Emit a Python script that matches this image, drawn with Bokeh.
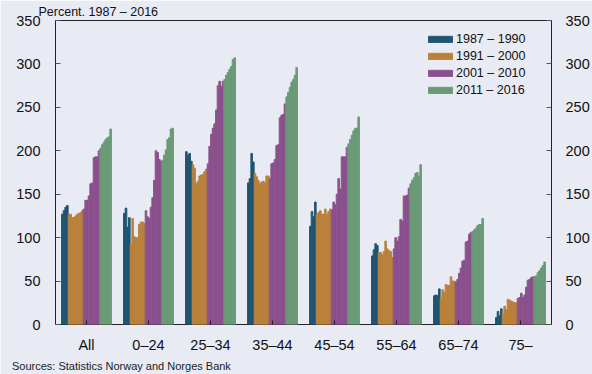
from bokeh.plotting import figure
from bokeh.models import (ColumnDataSource, FixedTicker, LinearAxis, Legend,
                          LegendItem, Title, Range1d)
from bokeh.embed import file_html
from bokeh.resources import INLINE

# ---------------- data ----------------
age_groups = ["All", "0–24", "25–34", "35–44", "45–54", "55–64", "65–74", "75–"]
periods = ["1987 – 1990", "1991 – 2000", "2001 – 2010", "2011 – 2016"]
bars_per_period = [4, 9, 10, 7]

debt_all = [127, 131, 135, 137, 127, 127, 123, 123, 125, 127, 128, 129, 131,
            133, 143, 143, 148, 162, 163, 192, 193, 193, 200,
            203, 207, 210, 213, 215, 216, 225]
debt_0_24 = [128, 134, 112, 123, 92, 122, 101, 100, 100, 115, 118, 118, 116,
             131, 124, 122, 135, 146, 166, 200, 198, 190, 188,
             189, 195, 201, 213, 215, 225, 226]
debt_25_34 = [199, 195, 197, 188, 184, 180, 162, 165, 171, 172, 173, 176, 179,
              185, 205, 219, 226, 231, 247, 275, 280, 274, 280,
              282, 287, 290, 294, 297, 305, 307]
debt_35_44 = [163, 168, 197, 187, 174, 170, 166, 162, 164, 165, 163, 171, 171,
              168, 185, 186, 190, 206, 207, 238, 241, 242, 254,
              262, 267, 273, 279, 282, 287, 296]
debt_45_54 = [113, 130, 124, 141, 127, 129, 131, 127, 127, 133, 127, 130, 133,
              132, 141, 138, 150, 168, 156, 193, 193, 193, 204,
              208, 213, 218, 223, 226, 226, 239]
debt_55_64 = [79, 86, 93, 91, 83, 83, 80, 84, 96, 87, 85, 84, 77,
              87, 100, 96, 101, 121, 119, 148, 148, 149, 157,
              162, 166, 169, 174, 175, 171, 184]
debt_65_74 = [33, 34, 33, 41, 30, 40, 37, 46, 45, 45, 55, 50, 50,
              49, 52, 59, 65, 73, 74, 95, 96, 104, 106,
              107, 109, 111, 114, 115, 115, 122]
debt_75 = [8, 15, 10, 18, 12, 21, 17, 29, 28, 27, 26, 25, 25,
           30, 31, 36, 31, 34, 43, 51, 52, 54, 55,
           55, 56, 60, 62, 65, 68, 72]

series = [debt_all, debt_0_24, debt_25_34, debt_35_44,
          debt_45_54, debt_55_64, debt_65_74, debt_75]
y_ticks = [0, 50, 100, 150, 200, 250, 300, 350]

# ---------------- styling ----------------
colors = ["#1e5470", "#b9803a", "#8a508c", "#6a9975"]
bg = "#e8ebf3"
font = "Liberation Sans"
n_bars = sum(bars_per_period)
group_frac = 50 / 62
bw = group_frac / n_bars

p = figure(width=592, height=374, output_backend="svg", toolbar_location=None,
           x_range=Range1d(0, len(age_groups)), y_range=Range1d(0, 350),
           min_border_left=55, min_border_right=41, min_border_top=20,
           min_border_bottom=49)
p.background_fill_color = bg
p.border_fill_color = bg
p.outline_line_color = "#222222"
p.outline_line_width = 1
p.grid.visible = False

renderers = []
start = 0
for k, cnt in enumerate(bars_per_period):
    xs, tops = [], []
    for gi, vals in enumerate(series):
        for j in range(start, start + cnt):
            xs.append(gi + 0.5 + (j - (n_bars - 1) / 2) * bw)
            tops.append(vals[j])
    src = ColumnDataSource(dict(x=xs, top=tops))
    r = p.vbar(x="x", top="top", width=bw, bottom=0, source=src,
               fill_color=colors[k], line_color=colors[k], line_width=0.9)
    renderers.append(r)
    start += cnt

# x axis
xa = p.xaxis[0]
xa.ticker = FixedTicker(ticks=[i + 0.5 for i in range(len(age_groups))])
xa.major_label_overrides = {i + 0.5: g for i, g in enumerate(age_groups)}
xa.major_tick_in = 4
xa.major_tick_out = 0
xa.major_tick_line_color = "#222222"
xa.minor_tick_line_color = None
xa.axis_line_color = None
xa.major_label_standoff = 12
xa.major_label_text_font = font
xa.major_label_text_font_size = "14.5px"
xa.major_label_text_color = "#111111"

# y axes
ya = p.yaxis[0]
yr = LinearAxis()
p.add_layout(yr, "right")
for ax, standoff in ((ya, 15), (yr, 14)):
    ax.ticker = FixedTicker(ticks=y_ticks)
    ax.major_tick_in = 5
    ax.major_tick_out = 0
    ax.major_tick_line_color = "#555555"
    ax.minor_tick_line_color = None
    ax.axis_line_color = None
    ax.major_label_standoff = standoff
    ax.major_label_text_font = font
    ax.major_label_text_font_size = "14.5px"
    ax.major_label_text_color = "#111111"

# legend
legend = Legend(items=[LegendItem(label=periods[k], renderers=[renderers[k]])
                       for k in range(len(periods))],
                location=(370, 227), orientation="vertical",
                glyph_width=30, glyph_height=8, label_height=14, spacing=3,
                padding=0, margin=0, label_standoff=1,
                border_line_alpha=0, background_fill_alpha=0,
                label_text_font=font, label_text_font_size="12.5px",
                label_text_color="#111111")
p.add_layout(legend, "center")

# texts outside the frame (as titles in the side panels)
p.add_layout(Title(text="Percent. 1987 – 2016", align="left", offset=-17,
                   standoff=4, text_font=font, text_font_size="12.5px",
                   text_font_style="normal", text_color="#111111"), "above")
p.add_layout(Title(text="Sources: Statistics Norway and Norges Bank",
                   align="left", offset=-43.5, standoff=5, text_font=font,
                   text_font_size="11px", text_font_style="normal",
                   text_color="#222222"), "below")

open("out.html", "w").write(file_html(p, INLINE))
